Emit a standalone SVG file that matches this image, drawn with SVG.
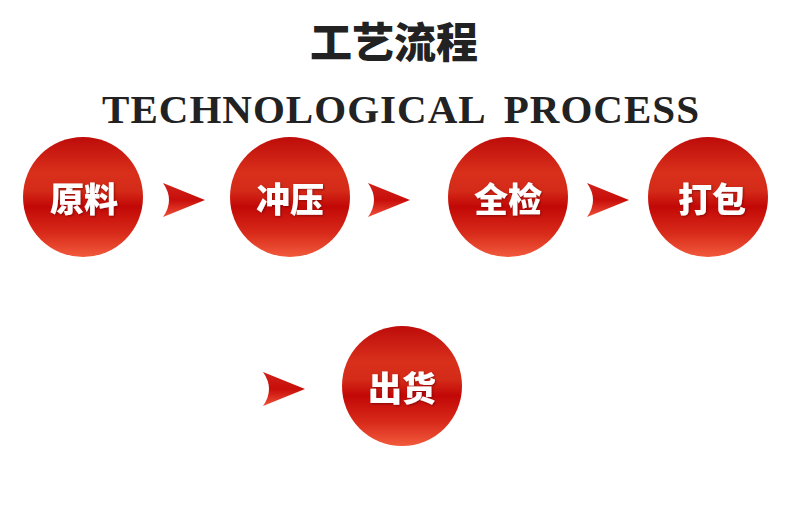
<svg xmlns="http://www.w3.org/2000/svg" width="790" height="519" viewBox="0 0 790 519">
<defs>
<linearGradient id="ball" x1="0" y1="0" x2="0" y2="1">
<stop offset="0" stop-color="#be0c0a"/>
<stop offset="0.3" stop-color="#d9301c"/>
<stop offset="0.45" stop-color="#d42a18"/>
<stop offset="0.58" stop-color="#c20806"/>
<stop offset="0.8" stop-color="#d82a1a"/>
<stop offset="1" stop-color="#f25a3c"/>
</linearGradient>
<linearGradient id="arr" x1="0" y1="0" x2="0" y2="1">
<stop offset="0" stop-color="#d0221a"/>
<stop offset="0.5" stop-color="#c80e0a"/>
<stop offset="1" stop-color="#f0503a"/>
</linearGradient>
<filter id="sh" x="-10%" y="-10%" width="130%" height="130%">
<feDropShadow dx="1" dy="1" stdDeviation="0.8" flood-color="#600000" flood-opacity="0.6"/>
</filter>
</defs>
<style>
.ball{fill:url(#ball)}
.lbl{font-family:"Noto Sans CJK SC",sans-serif;font-weight:900;font-size:34px;fill:#fff;text-anchor:middle;filter:url(#sh)}
.arrow{fill:url(#arr)}
</style>
<rect width="790" height="519" fill="#fff"/>
<text x="394" y="58" font-family="'Noto Sans CJK SC',sans-serif" font-weight="900" font-size="42" fill="#222" text-anchor="middle">工艺流程</text>
<text x="102" y="123" font-family="'Liberation Serif',serif" font-weight="bold" font-size="41" fill="#222" word-spacing="8" textLength="597" lengthAdjust="spacing">TECHNOLOGICAL PROCESS</text>
<g id="connectors">
<path class="arrow" d="M163,183 L205,200 L163,217 Q175,200 163,183 Z"/>
<path class="arrow" d="M368,183 L410,200 L368,217 Q380,200 368,183 Z"/>
<path class="arrow" d="M587,183 L629,200 L587,217 Q599,200 587,183 Z"/>
<path class="arrow" d="M263,372 L305,389 L263,406 Q275,389 263,372 Z"/>
</g>
<g id="n1"><circle class="ball" cx="83" cy="197" r="60"/><text class="lbl" x="84" y="212">原料</text></g>
<g id="n2"><circle class="ball" cx="290" cy="197" r="60"/><text class="lbl" x="290" y="212">冲压</text></g>
<g id="n3"><circle class="ball" cx="508" cy="197" r="60"/><text class="lbl" x="508" y="212">全检</text></g>
<g id="n4"><circle class="ball" cx="708" cy="197" r="60"/><text class="lbl" x="712" y="212">打包</text></g>
<g id="n5"><circle class="ball" cx="402" cy="386" r="60"/><text class="lbl" x="402" y="401">出货</text></g>
</svg>
